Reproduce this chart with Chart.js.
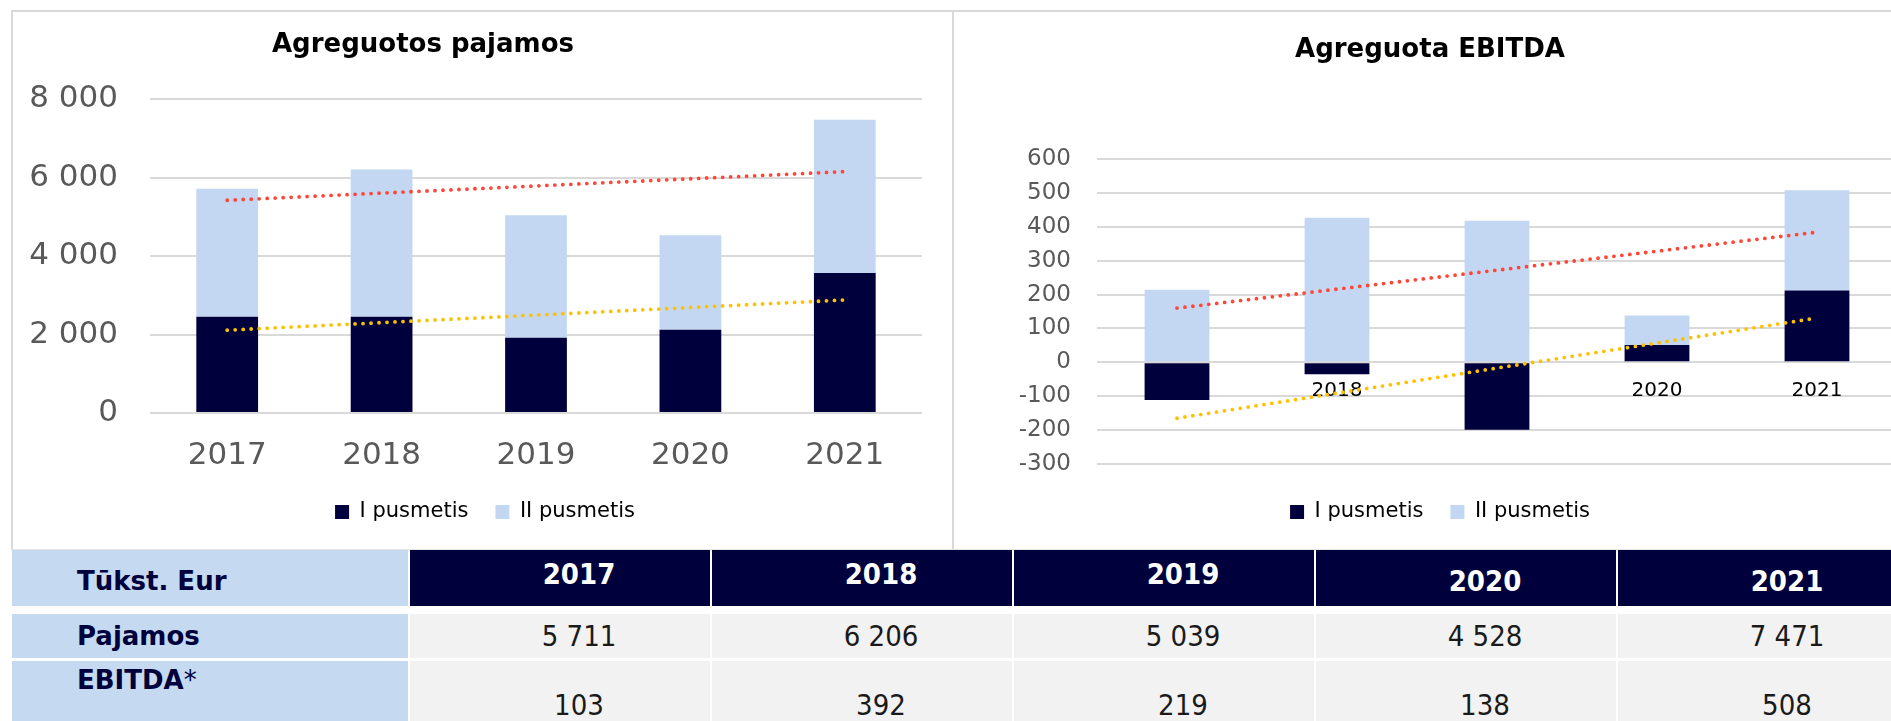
<!DOCTYPE html>
<html lang="lt">
<head>
    <meta charset="UTF-8">
    <title>Agreguotos pajamos ir EBITDA</title>
    <style>
        html, body {
            margin: 0;
            padding: 0;
            background: #fff;
            width: 1891px;
            height: 721px;
            overflow: hidden;
            font-family: "DejaVu Sans", Verdana, sans-serif;
        }

        .panel {
            position: absolute;
            top: 10px;
            height: 540px;
            box-sizing: border-box;
            border-top: 2px solid #D9D9D9;
            border-bottom: 1px solid #E3E3E3;
        }
        #panel-left { left: 11px; width: 943px; border-left: 2px solid #D9D9D9; border-right: 2px solid #D9D9D9; }
        #panel-right { left: 952px; width: 960px; }

        .title {
            position: absolute;
            margin: 0;
            font-size: 26px;
            line-height: 30px;
            font-weight: bold;
            color: #000;
            white-space: nowrap;
            transform: translateX(-50%);
        }
        #title-left { left: 423px; top: 28px; }
        #title-right { left: 1430px; top: 33px; }

        canvas { position: absolute; top: 10px; }
        #revenue-chart { left: 11px; }
        #ebitda-chart { left: 952px; }

        .trow {
            position: absolute;
            left: 12px;
            display: flex;
            column-gap: 2px;
        }
        .trow > div {
            box-sizing: border-box;
            display: flex;
            align-items: center;
            height: 100%;
        }
        .trow .label {
            width: 396px;
            background: #C5D9F1;
            color: #00003C;
            font-weight: bold;
            font-size: 26px;
            line-height: 30px;
            padding-left: 65px;
        }
        .trow .year, .trow .num {
            width: 300px;
            justify-content: center;
            padding-left: 38px;
            font-family: "DejaVu Sans Condensed", "DejaVu Sans", sans-serif;
            font-stretch: condensed;
            font-size: 29px;
        }
        .trow .year { background: #00003C; color: #fff; font-weight: bold; }
        .trow .num { background: #F2F2F2; color: #1a1a1a; }
        .trow .year.up { padding-bottom: 8px; }
        .trow .year.down { padding-top: 6px; }
        #row-head { top: 550px; height: 56px; }
        #row-head .label { padding-top: 5px; }
        #row-rev { top: 614px; height: 44px; }
        #row-ebitda { top: 661px; height: 88px; }
        #row-ebitda .label { align-items: flex-start; padding-top: 4px; }
        .star { font-weight: normal; }
    </style>
</head>
<body>
    <div class="panel" id="panel-left"></div>
    <div class="panel" id="panel-right"></div>

    <canvas id="revenue-chart" width="942" height="540"></canvas>
    <canvas id="ebitda-chart" width="960" height="540"></canvas>

    <h2 class="title" id="title-left">Agreguotos pajamos</h2>
    <h2 class="title" id="title-right">Agreguota EBITDA</h2>

    <div class="trow" id="row-head"></div>
    <div class="trow" id="row-rev"></div>
    <div class="trow" id="row-ebitda"></div>

    <script src="https://cdn.jsdelivr.net/npm/chart.js"></script>
    <script>
        const years = ['2017', '2018', '2019', '2020', '2021'];

        // pajamos, tukst. Eur
        const revenueH1 = [2450, 2450, 1915, 2120, 3570];
        const revenueH2 = [3261, 3756, 3124, 2408, 3901];
        const revenueTotal = [5711, 6206, 5039, 4528, 7471];
        // trend lines, read at the first and last year
        const revenueTotalTrend = [5420, null, null, null, 6150];
        const revenueH1Trend = [2110, null, null, null, 2880];
        const revenueTicks = [0, 2000, 4000, 6000, 8000];

        // EBITDA, tukst. Eur
        const ebitdaH1 = [-111, -35, -199, 51, 212];
        const ebitdaH2 = [214, 427, 418, 87, 296];
        const ebitdaTotal = [103, 392, 219, 138, 508];
        const ebitdaTotalTrend = [160, null, null, null, 384];
        const ebitdaH1Trend = [-165, null, null, null, 131];
        const ebitdaTicks = [-300, -200, -100, 0, 100, 200, 300, 400, 500, 600];

        const NAVY = '#00003C';
        const LIGHT = '#C4D7F2';
        const RED = '#FF4536';
        const GOLD = '#FFC000';
        const GRID = '#D9D9D9';
        const TICK = '#595959';

        Chart.defaults.font.family = '"DejaVu Sans", Verdana, sans-serif';
        Chart.defaults.animation = false;

        // moves the legend sideways after layout (the y labels need the room on the left)
        const legendShift = {
            id: 'legendShift',
            afterLayout(chart, args, opts) {
                if (opts.dx && chart.legend) {
                    chart.legend.left += opts.dx;
                    chart.legend.right += opts.dx;
                }
            }
        };

        function fmt(v) {
            return String(v).replace(/\B(?=(\d{3})+(?!\d))/g, ' ');
        }

        function trendDataset(data, color, stack) {
            return {
                type: 'line',
                data: data,
                spanGaps: true,
                borderColor: color,
                borderWidth: 3.8,
                borderDash: [0, 8],
                borderCapStyle: 'round',
                pointRadius: 0,
                fill: false,
                stack: stack,
                order: 0
            };
        }

        function barDatasets(h1, h2, pct) {
            return [
                { label: 'I pusmetis', data: h1, backgroundColor: NAVY, barPercentage: pct, categoryPercentage: 1, order: 1 },
                { label: 'II pusmetis', data: h2, backgroundColor: LIGHT, barPercentage: pct, categoryPercentage: 1, order: 1 }
            ];
        }

        const legendLabels = {
            color: '#000',
            font: { size: 21 },
            boxWidth: 14,
            boxHeight: 14,
            padding: 27,
            filter: (item, data) => data.datasets[item.datasetIndex].type !== 'line'
        };

        new Chart(document.getElementById('revenue-chart'), {
            type: 'bar',
            data: {
                labels: years,
                datasets: [
                    trendDataset(revenueTotalTrend, RED, 'trendTotal'),
                    trendDataset(revenueH1Trend, GOLD, 'trendH1'),
                    ...barDatasets(revenueH1, revenueH2, 0.4)
                ]
            },
            plugins: [legendShift],
            options: {
                responsive: false,
                layout: { padding: { left: 8, right: 31, top: 89, bottom: 17.5 } },
                plugins: {
                    title: { display: false },
                    tooltip: { enabled: false },
                    legendShift: { dx: 14.5 },
                    legend: { position: 'bottom', labels: legendLabels }
                },
                scales: {
                    x: {
                        stacked: true,
                        grid: { display: false, drawTicks: false },
                        border: { display: false },
                        ticks: { color: TICK, font: { size: 31 }, padding: 24.4, maxRotation: 0 },
                        afterFit: (axis) => { axis.height = 61.5; }
                    },
                    y: {
                        stacked: true,
                        min: revenueTicks[0],
                        max: revenueTicks[revenueTicks.length - 1],
                        afterBuildTicks: (axis) => { axis.ticks = revenueTicks.map(v => ({ value: v })); },
                        grid: { color: GRID, lineWidth: 2, drawTicks: false },
                        border: { display: false },
                        ticks: { color: TICK, font: { size: 31 }, padding: 32, callback: (v) => fmt(v) },
                        afterFit: (axis) => { axis.width = 131; }
                    }
                }
            }
        });

        new Chart(document.getElementById('ebitda-chart'), {
            type: 'bar',
            data: {
                labels: years,
                datasets: [
                    trendDataset(ebitdaTotalTrend, RED, 'trendTotal'),
                    trendDataset(ebitdaH1Trend, GOLD, 'trendH1'),
                    ...barDatasets(ebitdaH1, ebitdaH2, 0.405)
                ]
            },
            options: {
                responsive: false,
                layout: { padding: { left: 31, right: 15, top: 149, bottom: 17.5 } },
                plugins: {
                    title: { display: false },
                    tooltip: { enabled: false },
                    legend: {
                        position: 'bottom',
                        labels: legendLabels,
                        // empty title only keeps the legend a little lower
                        title: { display: true, text: '', font: { size: 1 }, padding: { top: 9.3, bottom: 0 } }
                    }
                },
                scales: {
                    x: {
                        stacked: true,
                        position: { y: 0 },
                        offset: true,
                        z: 1,
                        grid: { display: false, drawTicks: false },
                        border: { display: false },
                        ticks: { color: '#000', font: { size: 20 }, padding: 16, maxRotation: 0, autoSkip: false }
                    },
                    y: {
                        stacked: true,
                        min: ebitdaTicks[0],
                        max: ebitdaTicks[ebitdaTicks.length - 1],
                        afterBuildTicks: (axis) => { axis.ticks = ebitdaTicks.map(v => ({ value: v })); },
                        grid: { color: GRID, lineWidth: 2, drawTicks: false },
                        border: { display: false },
                        ticks: { color: TICK, font: { size: 23 }, padding: 26 },
                        afterFit: (axis) => { axis.width = 114; }
                    }
                }
            }
        });

        // table below the charts
        function cell(cls, html) {
            const d = document.createElement('div');
            d.className = cls;
            d.innerHTML = html;
            return d;
        }

        const head = document.getElementById('row-head');
        head.appendChild(cell('label', 'Tūkst. Eur'));
        years.forEach((y, i) => head.appendChild(cell('year ' + (i < 3 ? 'up' : 'down'), y)));

        const rev = document.getElementById('row-rev');
        rev.appendChild(cell('label', 'Pajamos'));
        revenueTotal.forEach(v => rev.appendChild(cell('num', fmt(v))));

        const ebitda = document.getElementById('row-ebitda');
        ebitda.appendChild(cell('label', 'EBITDA<span class="star">*</span>'));
        ebitdaTotal.forEach(v => ebitda.appendChild(cell('num', fmt(v))));
    </script>
</body>
</html>
